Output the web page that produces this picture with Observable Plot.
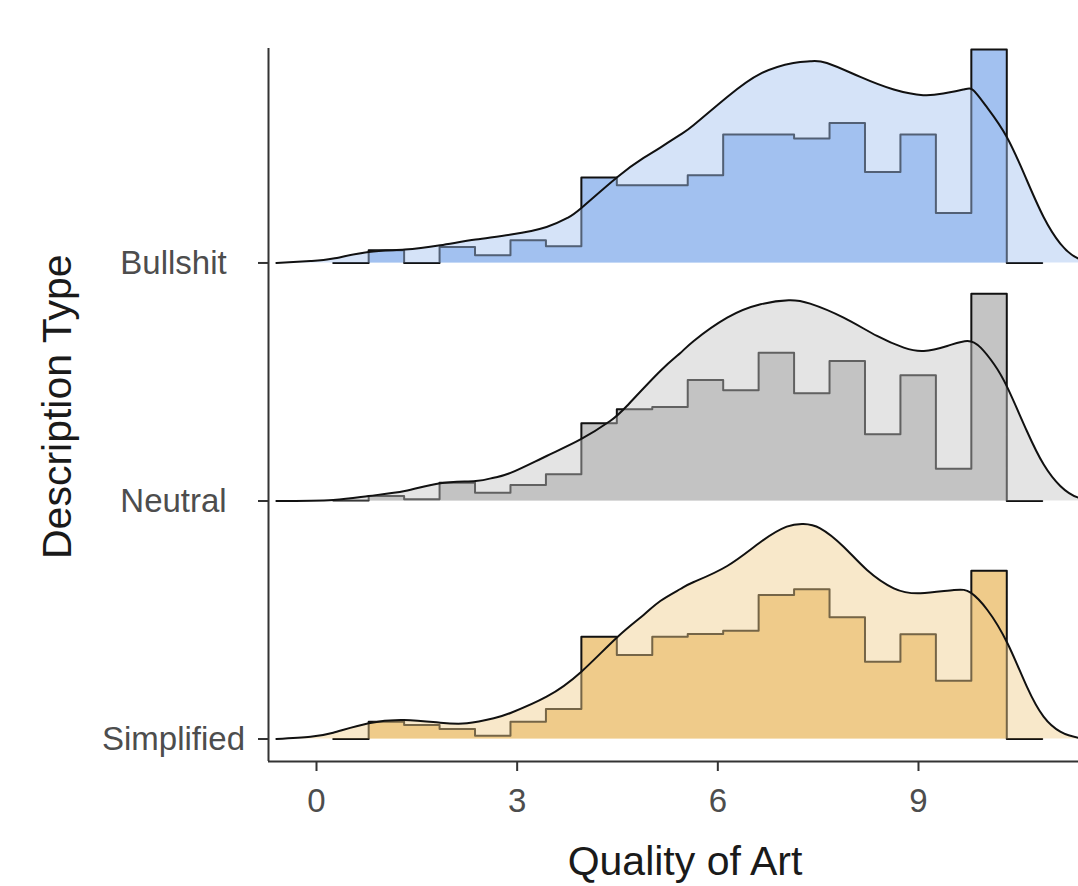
<!DOCTYPE html>
<html>
<head>
<meta charset="utf-8">
<script src="https://cdn.jsdelivr.net/npm/d3@7"></script>
<script src="https://cdn.jsdelivr.net/npm/@observablehq/plot@0.6"></script>
<style>
  html, body { margin: 0; padding: 0; background: #fff; overflow: hidden; }
  svg { max-width: none !important; font-family: "Liberation Sans", Arial, sans-serif !important; }
</style>
</head>
<body>
<div id="chart"></div>
<script>
// Groups listed bottom to top (ridge index 0, 1, 2)
const groups = ["Simplified", "Neutral", "Bullshit"];
const groupColors = ["#efcb8a", "#c4c4c4", "#a2c1f0"];
const xTicks = [0, 3, 6, 9];

// Histogram bin edges (Quality of Art)
const binEdges = [0.25, 0.78, 1.31, 1.84, 2.37, 2.9, 3.43, 3.96, 4.49, 5.02, 5.55,
                  6.08, 6.61, 7.14, 7.67, 8.2, 8.73, 9.26, 9.79, 10.32, 10.85];

// Histogram heights (same units as density heights)
const histBullshit   = [0, 12.7, 0, 16, 7.7, 22.7, 16.7, 85.4, 77.7, 77.7, 87.7, 128.4, 128.4, 124.4, 140, 91, 128.4, 50, 213.4, 0];
const histNeutral    = [0.5, 5, 1.7, 18.3, 8.3, 16, 26.7, 77.7, 91.7, 94, 121, 110.7, 148.3, 107.7, 140, 66.7, 125.7, 32.3, 207.3, 0];
const histSimplified = [0, 17.3, 14, 10, 3.3, 17.3, 30, 102.3, 84, 102.3, 105, 108.3, 144, 149.7, 121.7, 77.3, 104.7, 58.3, 168.3, 0];

// Density curves (x positions and heights)
const densBullshitX = [-0.6, -0.09, 0.25, 0.78, 1.32, 1.85, 2.38, 2.91, 3.44, 3.75, 3.96, 4.5, 4.89, 5.14, 5.44, 5.64, 6.14, 6.64, 7.13, 7.38, 7.63, 8.13, 8.63, 9.07, 9.37, 9.67, 9.82, 10.02, 10.32, 10.62, 10.87, 11.12, 11.39, 11.7];
const densBullshitY = [0, 2, 4.4, 11, 13.4, 17.7, 23.4, 28.4, 36, 45, 55, 86, 105, 115.4, 128.4, 138, 166, 189.4, 200, 201.7, 200, 186, 173.4, 167.7, 169.4, 173.4, 172.7, 156, 126, 82.7, 46, 19.4, 4.4, 0.5];

const densNeutralX = [-0.6, 0.25, 0.78, 1.32, 1.85, 2.38, 2.65, 2.91, 3.44, 3.96, 4.39, 4.64, 5.14, 5.44, 5.64, 6.14, 6.64, 7.06, 7.38, 7.88, 8.38, 8.78, 9.08, 9.43, 9.73, 9.93, 10.13, 10.33, 10.62, 10.87, 11.12, 11.39, 11.7];
const densNeutralY = [0, 1, 5, 10, 17.7, 20, 23.3, 28.3, 45, 62, 80, 95, 130, 148, 160, 183.3, 196.7, 200.7, 197.3, 183.3, 165, 153.3, 150, 155, 160, 153.3, 136.7, 113.3, 70, 36.7, 15, 3.3, 0.3];

const densSimplifiedX = [-0.6, -0.09, 0.25, 0.78, 1.31, 1.85, 2.25, 2.65, 2.91, 3.44, 3.96, 4.5, 4.89, 5.14, 5.44, 5.64, 6.14, 6.64, 7.03, 7.28, 7.53, 7.88, 8.23, 8.63, 9.03, 9.53, 9.78, 10.03, 10.33, 10.62, 10.87, 11.12, 11.39, 11.7];
const densSimplifiedY = [0, 2.3, 6.3, 15.7, 19, 16.3, 15.7, 20.7, 26.3, 42.3, 67.3, 102, 124, 138, 150, 157, 173, 197, 212.3, 215, 210.7, 192.3, 169, 150.7, 145.7, 149, 146.3, 129, 95.7, 52.3, 22.3, 7.3, 1.3, 0];

// Build tables
const ridgeScale = 1 / 238; // one ridge step corresponds to 238 height units
const histByGroup = {Simplified: histSimplified, Neutral: histNeutral, Bullshit: histBullshit};
const densByGroup = {
  Simplified: [densSimplifiedX, densSimplifiedY],
  Neutral: [densNeutralX, densNeutralY],
  Bullshit: [densBullshitX, densBullshitY]
};

const histRows = [];
const densRows = [];
groups.forEach((g, i) => {
  const h = histByGroup[g];
  for (let k = 0; k < h.length; k++) {
    histRows.push({group: g, x: binEdges[k], base: i, top: i + h[k] * ridgeScale});
  }
  histRows.push({group: g, x: binEdges[h.length], base: i, top: i + h[h.length - 1] * ridgeScale});
  const [dx, dy] = densByGroup[g];
  for (let k = 0; k < dx.length; k++) {
    densRows.push({group: g, x: dx[k], base: i, top: i + dy[k] * ridgeScale});
  }
});

const xDomain = [-0.7176, 11.736];
const yDomain = [-0.0945, 2.901];

const chart = Plot.plot({
  width: 1101,
  height: 886,
  marginLeft: 268,
  marginRight: 0,
  marginTop: 48,
  marginBottom: 125,
  style: {fontFamily: "Liberation Sans, Arial, sans-serif", background: "#fff"},
  x: {domain: xDomain},
  y: {domain: yDomain},
  color: {domain: groups, range: groupColors},
  marks: [
    Plot.areaY(histRows, {x: "x", y1: "base", y2: "top", z: "group", fill: "group", curve: "step-after"}),
    Plot.lineY(histRows, {x: "x", y: "top", z: "group", stroke: "#111", strokeWidth: 2, curve: "step-after"}),
    Plot.areaY(densRows, {x: "x", y1: "base", y2: "top", z: "group", fill: "group", fillOpacity: 0.45, curve: "natural"}),
    Plot.lineY(densRows, {x: "x", y: "top", z: "group", stroke: "#111", strokeWidth: 2, curve: "natural"}),
    Plot.ruleX([xDomain[0]], {stroke: "#333", strokeWidth: 2}),
    Plot.ruleY([yDomain[0]], {stroke: "#333", strokeWidth: 2}),
    Plot.axisX({ticks: xTicks, tickSize: 10, tickPadding: 17, fontSize: 33, stroke: "#333", fill: "#4d4d4d", strokeWidth: 2, label: null}),
    Plot.axisY({ticks: [0, 1, 2], tickFormat: i => groups[i], tickSize: 10, tickPadding: 85, textAnchor: "middle", fontSize: 33, stroke: "#333", fill: "#4d4d4d", strokeWidth: 2, label: null}),
    Plot.text(["Quality of Art"], {frameAnchor: "bottom", dy: 113, fontSize: 41, fill: "#1a1a1a"}),
    Plot.text(["Description Type"], {frameAnchor: "left", rotate: -90, dx: -211, dy: 154, fontSize: 41, fill: "#1a1a1a"})
  ]
});
document.getElementById("chart").appendChild(chart);
</script>
</body>
</html>
